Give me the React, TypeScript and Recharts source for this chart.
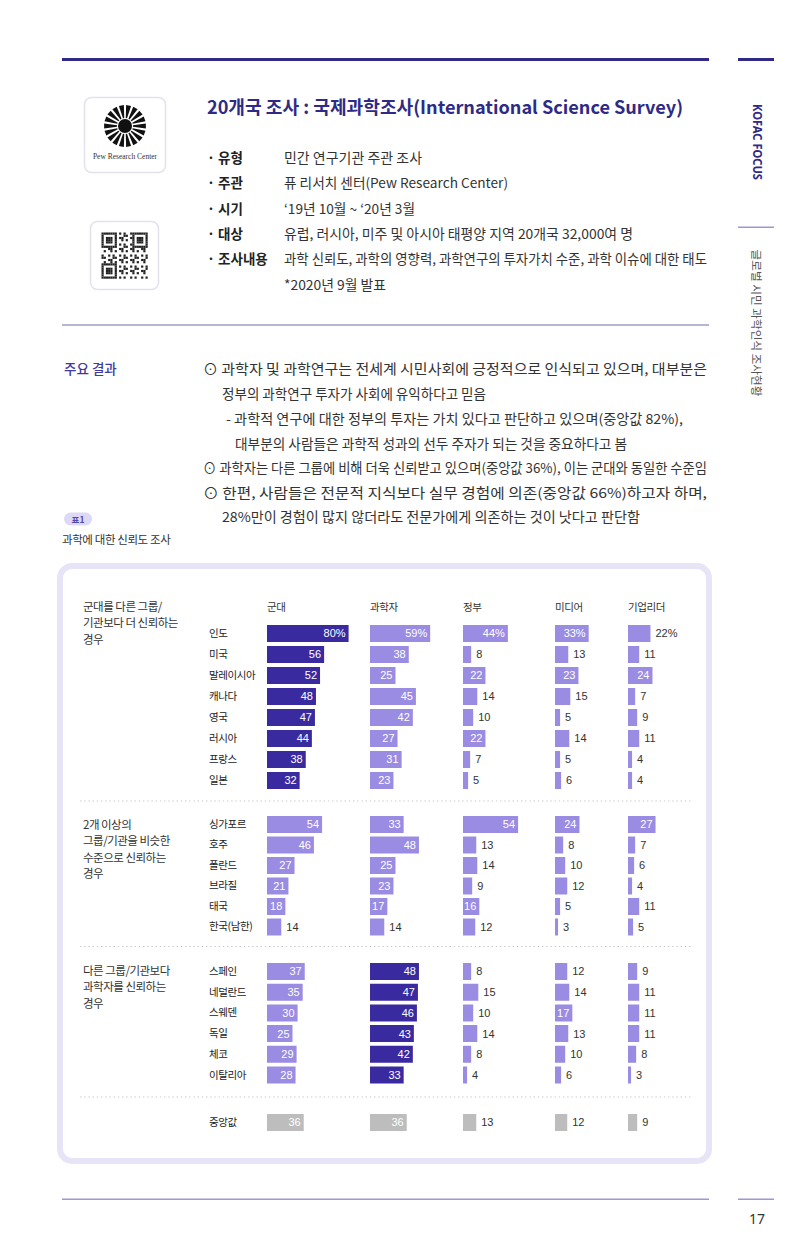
import React from 'react';
import { BarChart, Bar, XAxis, YAxis, LabelList } from 'recharts';

// trust in institutions, % of respondents per country
const columnNames = ['군대', '과학자', '정부', '미디어', '기업리더'];

const militaryFirstCountries = ['인도', '미국', '말레이시아', '캐나다', '영국', '러시아', '프랑스', '일본'];
const militaryFirstArmy = [80, 56, 52, 48, 47, 44, 38, 32];
const militaryFirstScientists = [59, 38, 25, 45, 42, 27, 31, 23];
const militaryFirstGovernment = [44, 8, 22, 14, 10, 22, 7, 5];
const militaryFirstMedia = [33, 13, 23, 15, 5, 14, 5, 6];
const militaryFirstBusiness = [22, 11, 24, 7, 9, 11, 4, 4];

const similarCountries = ['싱가포르', '호주', '폴란드', '브라질', '태국', '한국(남한)'];
const similarArmy = [54, 46, 27, 21, 18, 14];
const similarScientists = [33, 48, 25, 23, 17, 14];
const similarGovernment = [54, 13, 14, 9, 16, 12];
const similarMedia = [24, 8, 10, 12, 5, 3];
const similarBusiness = [27, 7, 6, 4, 11, 5];

const scienceFirstCountries = ['스페인', '네덜란드', '스웨덴', '독일', '체코', '이탈리아'];
const scienceFirstArmy = [37, 35, 30, 25, 29, 28];
const scienceFirstScientists = [48, 47, 46, 43, 42, 33];
const scienceFirstGovernment = [8, 15, 10, 14, 8, 4];
const scienceFirstMedia = [12, 14, 17, 13, 10, 6];
const scienceFirstBusiness = [9, 11, 11, 11, 8, 3];

const medianLabel = ['중앙값'];
const medianValues = [36, 36, 13, 12, 9];

const KR = '"Noto Sans CJK KR", "Noto Sans", sans-serif';
const NUM = '"Liberation Sans", Arial, sans-serif';
const NAVY = '#2e2a86';
const DARK_BAR = '#3a2a9f';
const LIGHT_BAR = '#9a8ce2';
const MEDIAN_BAR = '#bdbdbd';

// column layout inside the panel
const colLeft = [267, 370, 463, 555, 628];
const colWidth = [103, 93, 92, 73, 70];
const LABEL_LEFT = 209;
const PX_PER_PT = 1.02;

type Group = {
  title: string[];
  titleY: number;
  countries: string[];
  series: number[][];
  highlight: number;
  percentFirst?: boolean;
  median?: boolean;
  top: number;
  pitch: number;
};

const groups: Group[] = [
  {
    title: ['군대를 다른 그룹/', '기관보다 더 신뢰하는', '경우'],
    titleY: 606,
    countries: militaryFirstCountries,
    series: [militaryFirstArmy, militaryFirstScientists, militaryFirstGovernment, militaryFirstMedia, militaryFirstBusiness],
    highlight: 0,
    percentFirst: true,
    top: 622.5,
    pitch: 21,
  },
  {
    title: ['2개 이상의', '그룹/기관을 비슷한', '수준으로 신뢰하는', '경우'],
    titleY: 824,
    countries: similarCountries,
    series: [similarArmy, similarScientists, similarGovernment, similarMedia, similarBusiness],
    highlight: -1,
    top: 813.5,
    pitch: 20.5,
  },
  {
    title: ['다른 그룹/기관보다', '과학자를 신뢰하는', '경우'],
    titleY: 970,
    countries: scienceFirstCountries,
    series: [scienceFirstArmy, scienceFirstScientists, scienceFirstGovernment, scienceFirstMedia, scienceFirstBusiness],
    highlight: 1,
    top: 961.3,
    pitch: 20.7,
  },
  {
    title: [],
    titleY: 0,
    countries: medianLabel,
    series: medianValues.map((v) => [v]),
    highlight: -1,
    median: true,
    top: 1111.5,
    pitch: 21,
  },
];

function buildRows(g: Group) {
  return g.countries.map((country, i) => {
    const row: Record<string, string | number> = { country };
    g.series.forEach((s, k) => {
      row['v' + k] = s[i];
      row['l' + k] = `${s[i]}${g.percentFirst && i === 0 ? '%' : ''}`;
    });
    return row;
  });
}

// value label: inside the bar when it fits, otherwise just past its end
function BarValue(props: any) {
  const box = props.viewBox ?? props;
  const { x, y, width, height } = box;
  const text = String(props.value);
  const digits = text.replace('%', '').length;
  const need = digits * 6 + (text.includes('%') ? 9 : 0) + 4;
  const inside = width >= need;
  return (
    <text
      x={inside ? x + width - 3 : x + width + 5}
      y={y + height / 2}
      dy="0.36em"
      textAnchor={inside ? 'end' : 'start'}
      fill={inside ? '#ffffff' : '#333333'}
      fontSize={11}
      fontFamily={NUM}
    >
      {text}
    </text>
  );
}

function CountryTick(props: any) {
  return (
    <text x={0} y={props.y} dy="0.35em" fontSize={10.5} letterSpacing={-0.4} fill="#222" fontFamily={KR}>
      {props.payload.value}
    </text>
  );
}

function ColumnBars({ g, k }: { g: Group; k: number }) {
  const rows = buildRows(g);
  const axisW = k === 0 ? colLeft[0] - LABEL_LEFT : 0;
  const plotW = colWidth[k];
  const fill = g.median ? MEDIAN_BAR : k === g.highlight ? DARK_BAR : LIGHT_BAR;
  return (
    <div style={{ position: 'absolute', left: colLeft[k] - axisW, top: g.top }}>
      <BarChart
        layout="vertical"
        width={plotW + axisW}
        height={g.pitch * rows.length}
        data={rows}
        margin={{ top: 0, right: 0, bottom: 0, left: 0 }}
        style={{ overflow: 'visible' }}
      >
        <XAxis type="number" domain={[0, plotW / PX_PER_PT]} allowDataOverflow hide />
        <YAxis
          type="category"
          dataKey="country"
          width={axisW}
          hide={k !== 0}
          axisLine={false}
          tickLine={false}
          interval={0}
          tick={<CountryTick />}
        />
        <Bar dataKey={'v' + k} fill={fill} barSize={17} isAnimationActive={false}>
          <LabelList dataKey={'l' + k} content={<BarValue />} />
        </Bar>
      </BarChart>
    </div>
  );
}

const infoRows = [
  { label: '· 유형', value: '민간 연구기관 주관 조사', w: 138 },
  { label: '· 주관', value: '퓨 리서치 센터(Pew Research Center)', w: 224 },
  { label: '· 시기', value: '‘19년 10월 ~ ‘20년 3월', w: 131 },
  { label: '· 대상', value: '유럽, 러시아, 미주 및 아시아 태평양 지역 20개국 32,000여 명', w: 349 },
  { label: '· 조사내용', value: '과학 신뢰도, 과학의 영향력, 과학연구의 투자가치 수준, 과학 이슈에 대한 태도', w: 423 },
  { label: '', value: '*2020년 9월 발표', w: 102 },
];

const summaryLines = [
  { text: '⊙ 과학자 및 과학연구는 전세계 시민사회에 긍정적으로 인식되고 있으며, 대부분은', x: 203, y: 368, w: 504 },
  { text: '정부의 과학연구 투자가 사회에 유익하다고 믿음', x: 222, y: 393, w: 264 },
  { text: '- 과학적 연구에 대한 정부의 투자는 가치 있다고 판단하고 있으며(중앙값 82%),', x: 226, y: 418, w: 457 },
  { text: '대부분의 사람들은 과학적 성과의 선두 주자가 되는 것을 중요하다고 봄', x: 235, y: 443, w: 392 },
  { text: '⊙ 과학자는 다른 그룹에 비해 더욱 신뢰받고 있으며(중앙값 36%), 이는 군대와 동일한 수준임', x: 203, y: 467, w: 504 },
  { text: '⊙ 한편, 사람들은 전문적 지식보다 실무 경험에 의존(중앙값 66%)하고자 하며,', x: 203, y: 492, w: 504 },
  { text: '28%만이 경험이 많지 않더라도 전문가에게 의존하는 것이 낫다고 판단함', x: 222, y: 516, w: 418 },
];

function PewLogo() {
  const cx = 125;
  const cy = 126;
  const rays = Array.from({ length: 18 }, (_, i) => (i * Math.PI * 2) / 18);
  return (
    <g>
      <rect x={84.5} y={97.5} width={81} height={75} rx={7} fill="#fff" stroke="#e3e1ee" strokeWidth={1.5} />
      {rays.map((a, i) => {
        const p = (r: number, d: number) => `${cx + r * Math.cos(a + d)},${cy + r * Math.sin(a + d)}`;
        return <polygon key={i} points={[p(8, -0.08), p(21, -0.12), p(21, 0.12), p(8, 0.08)].join(' ')} fill="#111" />;
      })}
      <circle cx={cx} cy={cy} r={7} fill="#111" />
      <text x={cx} y={159} textAnchor="middle" fontSize={7.5} fontFamily='"Liberation Serif", serif' fill="#333">
        Pew Research Center
      </text>
    </g>
  );
}

function QrBox() {
  const n = 21;
  const s = 2.2;
  const ox = 101.5;
  const oy = 232.5;
  const finder = (r: number, c: number) => {
    const inBox = (r0: number, c0: number) => r >= r0 && r < r0 + 7 && c >= c0 && c < c0 + 7;
    for (const [r0, c0] of [[0, 0], [0, 14], [14, 0]]) {
      if (inBox(r0, c0)) {
        const rr = r - r0;
        const cc = c - c0;
        const ring = rr === 0 || rr === 6 || cc === 0 || cc === 6;
        const core = rr >= 2 && rr <= 4 && cc >= 2 && cc <= 4;
        return ring || core ? 1 : 0;
      }
    }
    return -1;
  };
  const cells: JSX.Element[] = [];
  for (let r = 0; r < n; r++) {
    for (let c = 0; c < n; c++) {
      const f = finder(r, c);
      const on = f >= 0 ? f === 1 : (r * 31 + c * 17 + r * c * 7) % 5 < 2;
      if (on) cells.push(<rect key={r * n + c} x={ox + c * s} y={oy + r * s} width={s} height={s} fill="#222" />);
    }
  }
  return (
    <g>
      <rect x={90.5} y={221.5} width={68} height={68} rx={7} fill="#fff" stroke="#e3e1ee" strokeWidth={1.5} />
      {cells}
    </g>
  );
}

function PageFrame() {
  return (
    <svg width={800} height={1257} style={{ position: 'absolute', left: 0, top: 0 }} fontFamily={KR}>
      {/* top rules */}
      <rect x={62} y={58} width={647} height={3} fill={NAVY} />
      <rect x={738} y={58} width={36} height={3} fill={NAVY} />
      <rect x={738} y={226.5} width={36} height={1.5} fill="#9c98d0" />

      <text
        x={757}
        y={142}
        transform="rotate(90 757 142)"
        textAnchor="middle"
        dominantBaseline="central"
        fontSize={11.5}
        fontWeight={700}
        fill={NAVY}
        fontFamily='"Noto Sans", sans-serif'
        textLength={76}
        lengthAdjust="spacingAndGlyphs"
      >
        KOFAC FOCUS
      </text>
      <text
        x={757}
        y={323}
        transform="rotate(90 757 323)"
        textAnchor="middle"
        dominantBaseline="central"
        fontSize={11.5}
        fill="#555"
        textLength={147}
        lengthAdjust="spacingAndGlyphs"
      >
        글로벌 시민 과학인식 조사현황
      </text>

      <PewLogo />
      <QrBox />

      <text x={207} y={106} dominantBaseline="central" fontSize={18} fontWeight={700} fill={NAVY} textLength={476} lengthAdjust="spacingAndGlyphs">
        20개국 조사 : 국제과학조사(International Science Survey)
      </text>

      {infoRows.map((r, i) => {
        const y = 157 + i * 25.3;
        return (
          <g key={i}>
            {r.label && (
              <text x={207} y={y} dominantBaseline="central" fontSize={13.5} fontWeight={700} fill="#222">
                {r.label}
              </text>
            )}
            <text x={284} y={y} dominantBaseline="central" fontSize={13.5} fill="#333" textLength={r.w} lengthAdjust="spacingAndGlyphs">
              {r.value}
            </text>
          </g>
        );
      })}

      <rect x={62} y={324.5} width={647} height={1} fill="#6f6ca6" />

      <text x={64} y={368} dominantBaseline="central" fontSize={13.5} fontWeight={500} fill="#3f3aa0">
        주요 결과
      </text>
      {summaryLines.map((l, i) => (
        <text key={i} x={l.x} y={l.y} dominantBaseline="central" fontSize={13.5} fill="#333" textLength={l.w} lengthAdjust="spacingAndGlyphs">
          {l.text}
        </text>
      ))}

      <rect x={64} y={512.5} width={28} height={13} rx={6.5} fill="#ddd9f5" />
      <text x={78} y={519} textAnchor="middle" dominantBaseline="central" fontSize={8.5} fontWeight={700} fill="#5246b0">
        표1
      </text>
      <text x={62} y={539} dominantBaseline="central" fontSize={11.5} letterSpacing={-0.4} fill="#333">
        과학에 대한 신뢰도 조사
      </text>

      {/* chart panel */}
      <rect x={60} y={566} width={649} height={595} rx={12} fill="#fff" stroke="#e7e4f7" strokeWidth={6} />

      {columnNames.map((c, k) => (
        <text key={c} x={colLeft[k]} y={606} dominantBaseline="central" fontSize={10.5} letterSpacing={-0.4} fill="#333">
          {c}
        </text>
      ))}

      {groups.map((g, gi) =>
        g.title.map((t, li) => (
          <text key={`${gi}-${li}`} x={83} y={g.titleY + li * 16.4} dominantBaseline="central" fontSize={11.5} letterSpacing={-0.5} fill="#333">
            {t}
          </text>
        ))
      )}

      {[801, 946.5, 1097].map((y) => (
        <line key={y} x1={80} x2={692} y1={y} y2={y} stroke="#c9c9c9" strokeWidth={1.2} strokeDasharray="1.4 2.8" />
      ))}

      {/* footer */}
      <rect x={62} y={1198.5} width={647} height={1.5} fill="#9c98d0" />
      <rect x={738} y={1198.5} width={36} height={1.5} fill="#9c98d0" />
      <text x={757} y={1218} textAnchor="middle" dominantBaseline="central" fontSize={14} fill="#333" fontFamily='"Noto Sans", sans-serif'>
        17
      </text>
    </svg>
  );
}

export default function App() {
  return (
    <div style={{ position: 'absolute', left: 0, top: 0, width: 800, height: 1257, background: '#fff', overflow: 'hidden' }}>
      <PageFrame />
      {groups.map((g, gi) => columnNames.map((_, k) => <ColumnBars key={`${gi}-${k}`} g={g} k={k} />))}
    </div>
  );
}
